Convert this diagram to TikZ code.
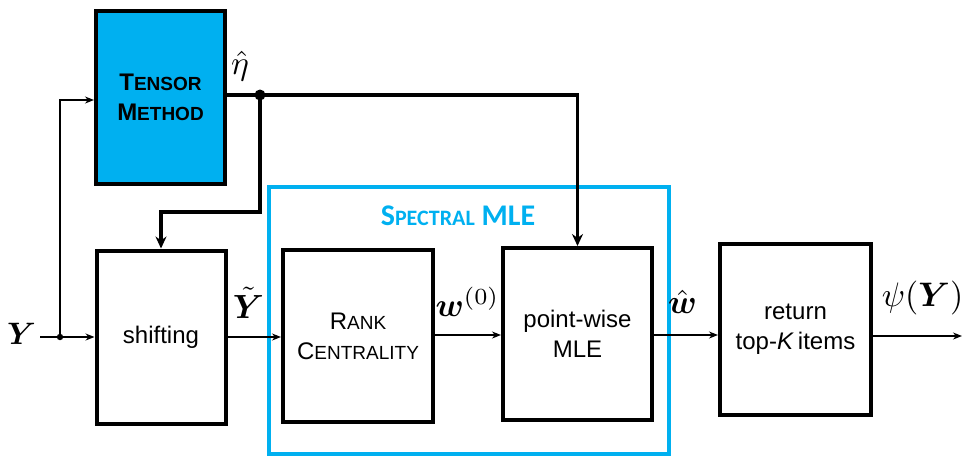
\documentclass[tikz,border=0pt]{standalone}
\usepackage{amsmath,amsbsy,graphicx}
\usepackage{fontspec}
\setmainfont{Liberation Sans}
\newfontfamily\calib{Carlito}
\usetikzlibrary{arrows.meta,calc}
\definecolor{cyanbox}{RGB}{0,176,240}
\newcommand\fsc[1]{{\fontsize{19}{20}\selectfont #1}}
\newcommand\tsc[1]{{\fontsize{22}{22}\selectfont #1}}
\newcommand\mbig[2]{\scalebox{#1}{$#2$}}
\begin{document}
\begin{tikzpicture}[x=1pt,y=-1pt,
  blk/.style={draw=black,line width=4pt,rectangle,align=center,inner sep=0pt,
    font=\fontsize{24}{30}\selectfont},
  thin/.style={line width=1.3pt,-{Stealth[length=9pt,width=7pt]}},
  thickarr/.style={line width=3.5pt,-{Stealth[length=12pt,width=11pt]}},
  thickln/.style={line width=3.5pt},
  mlab/.style={inner sep=0pt,font=\fontsize{10}{12}\selectfont}
]
\useasboundingbox (0,0) rectangle (964,456);
% spectral frame
\node[draw=cyanbox,line width=4pt,minimum width=400pt,minimum height=267pt,inner sep=0pt] (frame) at (469,320.5) {};
\node[text=cyanbox,inner sep=0pt,font=\calib\bfseries\fontsize{30}{30}\selectfont] (title) at (458,216) {S\tsc{PECTRAL} MLE};
% blocks
\node[blk,fill=cyanbox,minimum width=129pt,minimum height=173pt] (tensor) at (160.5,97.5) {\bfseries T\fsc{ENSOR}\\\bfseries M\fsc{ETHOD}};
\node[blk,minimum width=129pt,minimum height=173pt] (shift) at (161,337) {shifting};
\node[blk,minimum width=150pt,minimum height=172pt] (rank) at (358,336) {R\fsc{ANK}\\C\fsc{ENTRALITY}};
\node[blk,minimum width=149pt,minimum height=172pt] (point) at (577.5,334) {point-wise\\MLE};
\node[blk,minimum width=151pt,minimum height=171pt] (ret) at (795.5,329.5) {return\\top-\textit{K}\,items};
% labels
\node[mlab] (Y) at (21.5,334) {\mbig{3.1}{\boldsymbol{Y}}};
\node[mlab] (eta) at (240,66) {\mbig{3.35}{\hat{\eta}}};
\node[mlab] (yt) at (248.5,303) {\mbig{3.35}{\tilde{\boldsymbol{Y}}}};
\node[mlab] (w0) at (467.5,302) {\mbig{3.3}{\boldsymbol{w}^{(0)}}};
\node[mlab] (wh) at (682.5,302) {\mbig{3.35}{\hat{\boldsymbol{w}}}};
\node[mlab] (psi) at (922.5,298) {\mbig{3.4}{\psi(\boldsymbol{Y})}};
% coordinates
\coordinate (yin) at (40,337);
\coordinate (j1) at (60,337);
\coordinate (dot) at (260,95);
\coordinate (bend) at (260,212);
\coordinate (out) at (962,336);
% connectors
\draw[thin] (yin) -- (shift.west |- yin);
\draw[thin] (j1) |- ($(tensor.west)+(0,2.5)$);
\fill (j1) circle (3.2pt);
\draw[thickln] (tensor.east |- dot) -- (dot);
\draw[thickarr] (dot) -| (point.north);
\draw[thickarr] (dot) -- (bend) -| (shift.north);
\fill (dot) circle (5.5pt);
\draw[thin] (shift.east |- yin) -- (rank.west |- yin);
\draw[thin] ($(rank.east)+(0,-1)$) -- ($(point.west)+(0,1)$);
\draw[thin] (point.east |- 0,335) -- (ret.west |- 0,335);
\draw[thin] (ret.east |- out) -- (out);
\end{tikzpicture}
\end{document}
